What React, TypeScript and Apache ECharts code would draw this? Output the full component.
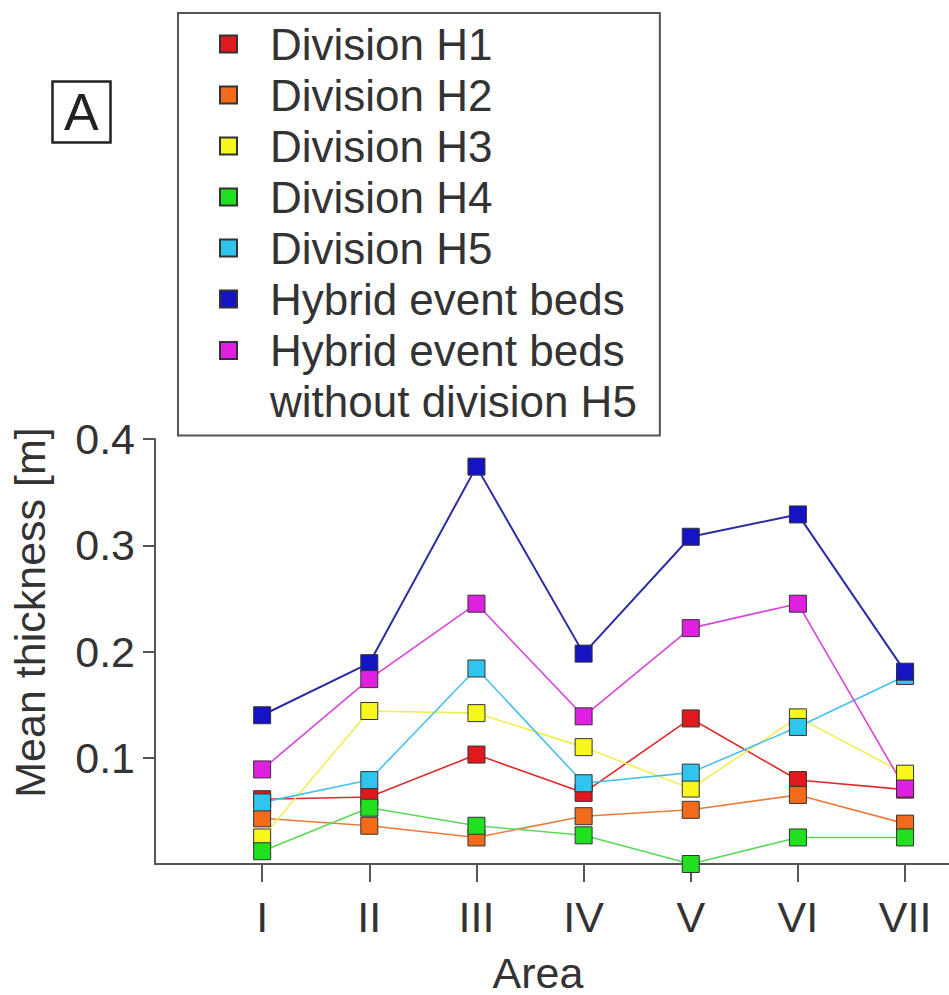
import React, { useEffect, useRef } from "react";
import * as echarts from "echarts";

const areas = ["I", "II", "III", "IV", "V", "VI", "VII"];
const seriesNames = [
  "Division H1",
  "Division H2",
  "Division H3",
  "Division H4",
  "Division H5",
  "Hybrid event beds",
  "Hybrid event beds without division H5",
];
const divisionH1 = [0.061, 0.063, 0.103, 0.067, 0.137, 0.079, 0.07];
const divisionH2 = [0.043, 0.036, 0.025, 0.045, 0.051, 0.065, 0.038];
const divisionH3 = [0.025, 0.144, 0.142, 0.11, 0.071, 0.138, 0.085];
const divisionH4 = [0.012, 0.053, 0.036, 0.027, 0.0, 0.025, 0.025];
const divisionH5 = [0.058, 0.079, 0.184, 0.076, 0.086, 0.129, 0.177];
const hybridBeds = [0.14, 0.189, 0.374, 0.198, 0.308, 0.329, 0.181];
const hybridNoH5 = [0.089, 0.174, 0.245, 0.139, 0.222, 0.245, 0.071];
const yTicks = [0.1, 0.2, 0.3, 0.4];

const FONT = "'Liberation Sans', Arial, Helvetica, sans-serif";
const markerColors = ["#e0191f", "#f26b1d", "#f7f71e", "#20e020", "#30c4ee", "#1414c4", "#e020e0"];
const lineColors = ["#e02a2a", "#ee7a3a", "#f1ee55", "#5ada5a", "#45c2ea", "#2c2ca6", "#d845d8"];

export default function App() {
  const ref = useRef<HTMLDivElement>(null);
  useEffect(() => {
    if (!ref.current) return;
    const chart = echarts.init(ref.current, undefined, { renderer: "svg" });
    const values = [divisionH1, divisionH2, divisionH3, divisionH4, divisionH5, hybridBeds, hybridNoH5];
    const xs = areas.map((_, i) => i + 1);
    const lastName = seriesNames[6];
    chart.setOption({
      animation: false,
      backgroundColor: "#ffffff",
      title: {
        text: "A",
        left: 52,
        top: 81,
        borderColor: "#222",
        borderWidth: 2.5,
        padding: [4, 12, 4, 12],
        textStyle: { fontSize: 52, fontWeight: "normal", color: "#222", fontFamily: FONT, lineHeight: 54 },
      },
      legend: {
        orient: "vertical",
        left: 178,
        top: 13,
        padding: [5.5, 23, 9, 41],
        itemGap: 0,
        itemWidth: 17,
        itemHeight: 17,
        icon: "rect",
        borderColor: "#555",
        borderWidth: 2,
        selectedMode: false,
        data: seriesNames,
        formatter: (name: string) =>
          name === lastName ? "{a|Hybrid event beds}\n{b|without division H5}" : name,
        textStyle: {
          fontSize: 44,
          lineHeight: 51,
          color: "#333",
          fontFamily: FONT,
          padding: [0, 0, 0, 28],
          rich: {
            a: { fontSize: 44, lineHeight: 51, color: "#333", fontFamily: FONT },
            b: { fontSize: 44, lineHeight: 1, height: 51, verticalAlign: "top", color: "#333", fontFamily: FONT },
          },
        },
      },
      grid: { left: 155, top: 439, right: 0, bottom: 131, containLabel: false },
      xAxis: {
        type: "value",
        min: 0,
        max: 7.41,
        interval: 1,
        name: "Area",
        nameLocation: "middle",
        nameGap: 87,
        nameTextStyle: { fontSize: 43, color: "#333", fontFamily: FONT, padding: [0, 28, 0, 0] },
        axisLine: { show: true, onZero: false, lineStyle: { color: "#555", width: 2 } },
        axisTick: { show: true, customValues: xs, length: 18, lineStyle: { color: "#555", width: 2 } },
        axisLabel: {
          customValues: xs,
          formatter: (v: number) => areas[Math.round(v) - 1] ?? "",
          fontSize: 43,
          color: "#333",
          fontFamily: FONT,
          margin: 31,
        },
        splitLine: { show: false },
      },
      yAxis: {
        type: "value",
        min: 0,
        max: 0.4,
        interval: 0.1,
        name: "Mean thickness [m]",
        nameLocation: "middle",
        nameRotate: 90,
        nameGap: 104,
        nameTextStyle: { fontSize: 43, color: "#333", fontFamily: FONT, padding: [0, 0, 0, 78] },
        axisLine: { show: true, onZero: false, lineStyle: { color: "#555", width: 2 } },
        axisTick: { show: true, customValues: yTicks, length: 12, lineStyle: { color: "#555", width: 2 } },
        axisLabel: {
          customValues: yTicks,
          formatter: (v: number) => v.toFixed(1),
          fontSize: 43,
          color: "#333",
          fontFamily: FONT,
          margin: 20,
        },
        splitLine: { show: false },
      },
      series: seriesNames.map((name, si) => ({
        name,
        type: "line",
        symbol: "rect",
        symbolSize: 17,
        clip: false,
        data: values[si].map((v, i) => [xs[i], v]),
        itemStyle: { color: markerColors[si], borderColor: "#333", borderWidth: 1 },
        lineStyle: { color: lineColors[si], width: si === 5 ? 2 : 1.6 },
        emphasis: { disabled: true },
      })),
    });
    return () => chart.dispose();
  }, []);
  return <div ref={ref} style={{ position: "absolute", left: 0, top: 0, width: 949, height: 995 }} />;
}
